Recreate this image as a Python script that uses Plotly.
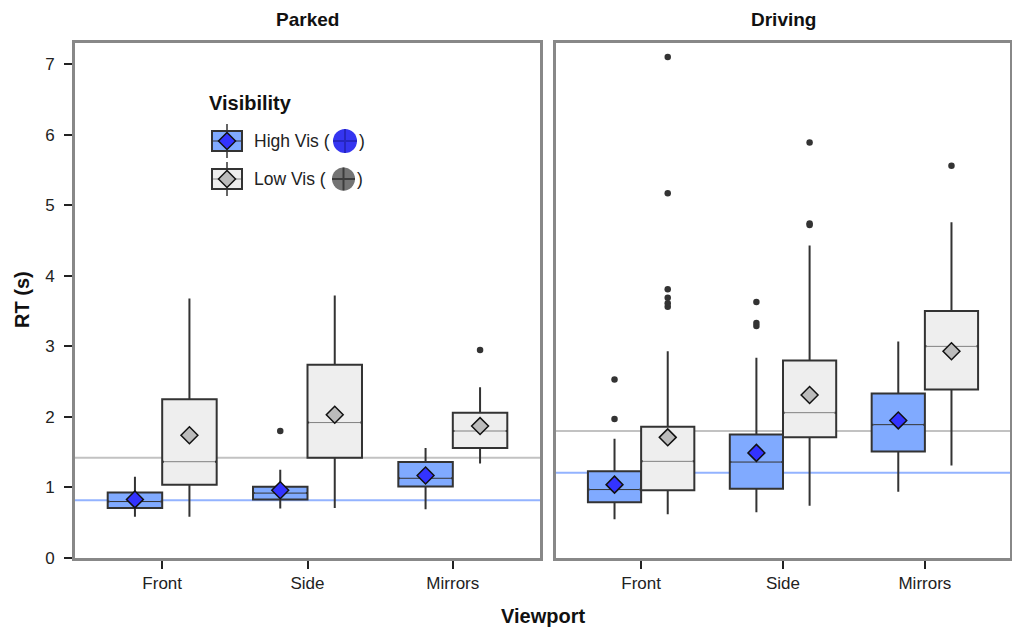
import plotly.graph_objects as go

# ---------------- data ----------------
categories = ["Front", "Side", "Mirrors"]
panels = ["Parked", "Driving"]
groups = ["High Vis", "Low Vis"]

hi_park_q1 = [0.71, 0.83, 1.015]
hi_park_med = [0.80, 0.92, 1.13]
hi_park_q3 = [0.93, 1.01, 1.36]
hi_park_lo = [0.585, 0.70, 0.69]
hi_park_hi = [1.15, 1.25, 1.56]
hi_park_mean = [0.83, 0.96, 1.17]
hi_park_out = [[], [1.80], []]

lo_park_q1 = [1.04, 1.42, 1.56]
lo_park_med = [1.365, 1.92, 1.80]
lo_park_q3 = [2.25, 2.74, 2.06]
lo_park_lo = [0.585, 0.71, 1.34]
lo_park_hi = [3.68, 3.72, 2.42]
lo_park_mean = [1.74, 2.03, 1.87]
lo_park_out = [[], [], [2.95]]

hi_drive_q1 = [0.79, 0.98, 1.51]
hi_drive_med = [0.97, 1.36, 1.89]
hi_drive_q3 = [1.23, 1.75, 2.33]
hi_drive_lo = [0.55, 0.65, 0.94]
hi_drive_hi = [1.69, 2.84, 3.07]
hi_drive_mean = [1.04, 1.49, 1.95]
hi_drive_out = [[1.97, 2.53], [3.29, 3.33, 3.63], []]

lo_drive_q1 = [0.96, 1.71, 2.39]
lo_drive_med = [1.37, 2.06, 3.00]
lo_drive_q3 = [1.86, 2.80, 3.50]
lo_drive_lo = [0.62, 0.74, 1.31]
lo_drive_hi = [2.93, 4.43, 4.76]
lo_drive_mean = [1.71, 2.31, 2.93]
lo_drive_out = [[3.56, 3.61, 3.69, 3.81, 5.17, 7.10], [4.72, 4.74, 5.89], [5.56]]

hi_ref = [0.82, 1.21]   # Parked, Driving
lo_ref = [1.42, 1.80]

y_ticks = [0, 1, 2, 3, 4, 5, 6, 7]

# ---------------- styling ----------------
FONT = "Liberation Sans, Arial, sans-serif"
HI_FILL = "#80aaff"
LO_FILL = "#eeeeee"
HI_MEAN = "#3333ff"
LO_MEAN = "#bbbbbb"
HI_MED = "#333333"
LO_MED = "#808080"
EDGE = "#333333"
BOX_W = 0.375
OFF = 0.1875

data = {
    ("Parked", "High Vis"): (hi_park_q1, hi_park_med, hi_park_q3, hi_park_lo, hi_park_hi, hi_park_mean, hi_park_out),
    ("Parked", "Low Vis"): (lo_park_q1, lo_park_med, lo_park_q3, lo_park_lo, lo_park_hi, lo_park_mean, lo_park_out),
    ("Driving", "High Vis"): (hi_drive_q1, hi_drive_med, hi_drive_q3, hi_drive_lo, hi_drive_hi, hi_drive_mean, hi_drive_out),
    ("Driving", "Low Vis"): (lo_drive_q1, lo_drive_med, lo_drive_q3, lo_drive_lo, lo_drive_hi, lo_drive_mean, lo_drive_out),
}
style = {
    "High Vis": dict(fill=HI_FILL, mean=HI_MEAN, med=HI_MED, off=-OFF),
    "Low Vis": dict(fill=LO_FILL, mean=LO_MEAN, med=LO_MED, off=OFF),
}

fig = go.Figure()

for pi, panel in enumerate(panels):
    xa = "x" if pi == 0 else "x2"
    ya = "y" if pi == 0 else "y2"
    for g in groups:
        q1, med, q3, lo, hi, mean, out = data[(panel, g)]
        st = style[g]
        xs = [i + 1 + st["off"] for i in range(len(categories))]
        fig.add_trace(go.Box(
            x=xs, q1=q1, median=med, q3=q3, lowerfence=lo, upperfence=hi,
            width=BOX_W, whiskerwidth=0, boxpoints=False,
            fillcolor=st["fill"], line=dict(color=EDGE, width=2),
            xaxis=xa, yaxis=ya, showlegend=False, hoverinfo="skip",
        ))
        # thin median line over the box's own median
        mx, my = [], []
        for x, m in zip(xs, med):
            mx += [x - BOX_W / 2 + 0.012, x + BOX_W / 2 - 0.012, None]
            my += [m, m, None]
        fig.add_trace(go.Scatter(x=mx, y=my, mode="lines",
                                 line=dict(color=st["fill"], width=3.2),
                                 xaxis=xa, yaxis=ya, showlegend=False, hoverinfo="skip"))
        fig.add_trace(go.Scatter(x=mx, y=my, mode="lines",
                                 line=dict(color=st["med"], width=1),
                                 xaxis=xa, yaxis=ya, showlegend=False, hoverinfo="skip"))
        # outliers
        ox, oy = [], []
        for x, pts in zip(xs, out):
            for p in pts:
                ox.append(x)
                oy.append(p)
        fig.add_trace(go.Scatter(x=ox, y=oy, mode="markers",
                                 marker=dict(color="#333333", size=6.5),
                                 xaxis=xa, yaxis=ya, showlegend=False, hoverinfo="skip"))
        # means
        fig.add_trace(go.Scatter(x=xs, y=mean, mode="markers",
                                 marker=dict(symbol="diamond", size=13, color=st["mean"],
                                             line=dict(color="#111111", width=1.5)),
                                 xaxis=xa, yaxis=ya, showlegend=False, hoverinfo="skip"))

# reference lines, under all traces
for pi in range(2):
    xr = "x" if pi == 0 else "x2"
    yr = "y" if pi == 0 else "y2"
    fig.add_shape(type="line", xref=xr, yref=yr, x0=0.4, x1=3.6, y0=hi_ref[pi], y1=hi_ref[pi],
                  line=dict(color="#93b3ff", width=2), layer="below")
    fig.add_shape(type="line", xref=xr, yref=yr, x0=0.4, x1=3.6, y0=lo_ref[pi], y1=lo_ref[pi],
                  line=dict(color="#c2c2c2", width=2), layer="below")

# ---------------- layout ----------------
L, R, T, B = 75, 2, 43, 72
W, H = 1012, 630
PW, PH = W - L - R, H - T - B


def px(xp):
    return (xp - L) / PW


def py(yp):
    return (H - B - yp) / PH


axis_common = dict(showline=True, linecolor="#888888", linewidth=3, mirror=True,
                   showgrid=False, zeroline=False, ticks="outside", ticklen=8,
                   tickwidth=2, tickcolor="#222222",
                   tickfont=dict(family=FONT, size=17, color="#222222"))

fig.update_layout(
    width=W, height=H,
    margin=dict(l=L, r=R, t=T, b=B),
    paper_bgcolor="white", plot_bgcolor="white",
    boxmode="overlay",
    font=dict(family=FONT, color="#222222"),
    xaxis=dict(domain=[0, px(540)], range=[0.4, 3.6], tickvals=[1, 2, 3], ticktext=categories,
               anchor="y", automargin=False, **axis_common),
    xaxis2=dict(domain=[px(556), 1], range=[0.4, 3.6], tickvals=[1, 2, 3], ticktext=categories,
                anchor="y2", automargin=False, **axis_common),
    yaxis=dict(domain=[0, 1], range=[0, 7.3], tickvals=y_ticks, anchor="x", automargin=False,
               ticklabelstandoff=6, **axis_common),
    yaxis2=dict(domain=[0, 1], range=[0, 7.3], tickvals=y_ticks, anchor="x2", automargin=False,
                **{**axis_common, "ticks": "", "showticklabels": False}),
)

ann = []
TITLE_FONT = dict(size=19, family=FONT, color="#111111")
# facet titles
ann.append(dict(text="<b>Parked</b>", x=px(307), y=py(19), xref="paper", yref="paper",
                xanchor="center", yanchor="middle", showarrow=False, font=TITLE_FONT))
ann.append(dict(text="<b>Driving</b>", x=px(783), y=py(19), xref="paper", yref="paper",
                xanchor="center", yanchor="middle", showarrow=False, font=TITLE_FONT))
# axis titles
ann.append(dict(text="<b>Viewport</b>", x=px(543), y=py(616), xref="paper", yref="paper",
                xanchor="center", yanchor="middle", showarrow=False, font=dict(size=20, family=FONT, color="#111111")))
ann.append(dict(text="<b>RT (s)</b>", x=px(22), y=py(300), xref="paper", yref="paper",
                xanchor="center", yanchor="middle", showarrow=False, textangle=-90,
                font=dict(size=20, family=FONT, color="#111111")))
# legend
ann.append(dict(text="<b>Visibility</b>", x=px(207), y=py(103), xref="paper", yref="paper",
                xanchor="left", yanchor="middle", showarrow=False,
                font=dict(size=20, family=FONT, color="#111111")))

shapes = []
legend_rows = [
    ("High Vis (", HI_FILL, HI_MEAN, HI_MED, 141, "#3535f0", "#2626c0", 345, 12),
    ("Low Vis (", LO_FILL, LO_MEAN, LO_MED, 179, "#747474", "#3c3c3c", 343.5, 11.5),
]
for label, fill, meanc, medc, yc, cfill, ccross, cx, r in legend_rows:
    xc = 227
    # whisker
    shapes.append(dict(type="line", xref="paper", yref="paper", x0=px(xc), x1=px(xc),
                       y0=py(yc - 17), y1=py(yc + 17), line=dict(color=EDGE, width=1.5)))
    shapes.append(dict(type="rect", xref="paper", yref="paper", x0=px(212), x1=px(242),
                       y0=py(yc - 10), y1=py(yc + 10), fillcolor=fill,
                       line=dict(color=EDGE, width=2)))
    shapes.append(dict(type="line", xref="paper", yref="paper", x0=px(213), x1=px(241),
                       y0=py(yc), y1=py(yc), line=dict(color=medc, width=1)))
    shapes.append(dict(type="path", xref="paper", yref="paper",
                       path=f"M {px(xc)},{py(yc-8.5)} L {px(xc+8.5)},{py(yc)} L {px(xc)},{py(yc+8.5)} L {px(xc-8.5)},{py(yc)} Z",
                       fillcolor=meanc, line=dict(color="#111111", width=1.5)))
    ann.append(dict(text=label, x=px(252), y=py(yc), xref="paper", yref="paper",
                    xanchor="left", yanchor="middle", showarrow=False,
                    font=dict(size=17.5, family=FONT, color="#222222")))
    shapes.append(dict(type="circle", xref="paper", yref="paper", x0=px(cx - r), x1=px(cx + r),
                       y0=py(yc + r), y1=py(yc - r), fillcolor=cfill, line=dict(width=0)))
    shapes.append(dict(type="line", xref="paper", yref="paper", x0=px(cx - r), x1=px(cx + r),
                       y0=py(yc), y1=py(yc), line=dict(color=ccross, width=2)))
    shapes.append(dict(type="line", xref="paper", yref="paper", x0=px(cx), x1=px(cx),
                       y0=py(yc - r), y1=py(yc + r), line=dict(color=ccross, width=2)))
    ann.append(dict(text=")", x=px(cx + r), y=py(yc), xref="paper", yref="paper",
                    xanchor="left", yanchor="middle", showarrow=False,
                    font=dict(size=17.5, family=FONT, color="#222222")))

fig.update_layout(annotations=ann)
for s in shapes:
    fig.add_shape(**s)

fig.write_html("out.html", config={"displayModeBar": False},
               post_script="document.body.style.margin='0';document.body.style.overflow='hidden';")
